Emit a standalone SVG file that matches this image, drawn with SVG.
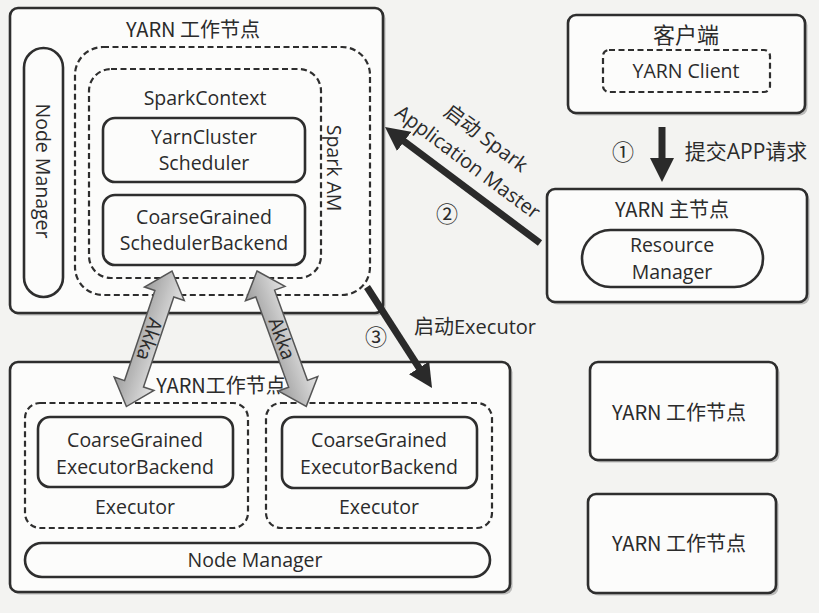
<svg xmlns="http://www.w3.org/2000/svg" width="819" height="613" viewBox="0 0 819 613">
<defs>
<style>
.box{fill:#fcfcfb;stroke:#2e2e2e;stroke-width:2.6}
.shadow{fill:#8c8c8c;opacity:0.55}
.inner{fill:#fcfcfb;stroke:#2e2e2e;stroke-width:2.6}
.dash{fill:none;stroke:#2e2e2e;stroke-width:2.2;stroke-dasharray:6 3.5}
.t{font-family:"Open Sans","Noto Sans CJK SC",sans-serif;font-size:19.5px;fill:#2b2b2b;text-anchor:middle}
.cn{font-family:"Noto Sans CJK SC",sans-serif;font-size:20px;fill:#2b2b2b;text-anchor:middle}
.num{font-family:"Noto Sans CJK SC",sans-serif;font-size:22px;fill:#2b2b2b;text-anchor:middle}
.akka{font-family:"Noto Sans CJK SC",sans-serif;font-size:19px;fill:#2b2b2b;text-anchor:middle}
.arr{stroke:#2a2a2a;stroke-width:7;fill:none;marker-end:url(#head)}
.block{stroke:#555;stroke-width:1.5;fill:url(#gg)}
</style>
<marker id="head" markerUnits="userSpaceOnUse" viewBox="0 0 24 24" markerWidth="24" markerHeight="24" refX="4" refY="12" orient="auto">
<path d="M0,0 L24,12 L0,24 z" fill="#2a2a2a"/>
</marker>
<linearGradient id="gg" x1="0" y1="0" x2="0" y2="1">
<stop offset="0" stop-color="#e4e4e4"/>
<stop offset="1" stop-color="#9c9c9c"/>
</linearGradient>
</defs>
<rect x="0" y="0" width="819" height="613" fill="#f3f3f1"/>

<g id="worker-am">
<rect class="shadow" x="12.5" y="10.5" width="373" height="305" rx="8"/>
<rect class="box" x="10" y="8" width="373" height="305" rx="8"/>
<text class="cn" x="193" y="37">YARN 工作节点</text>
<g id="nm-top">
<rect class="inner" x="24" y="48" width="39" height="249" rx="19.5"/>
<text class="t" transform="translate(43,171) rotate(90)" x="0" y="7">Node Manager</text>
</g>
<g id="spark-am">
<rect class="dash" x="75" y="47" width="295" height="248" rx="28"/>
<text class="t" transform="translate(334,168) rotate(90)" x="0" y="7">Spark AM</text>
</g>
<g id="spark-context">
<rect class="dash" x="89" y="69" width="232" height="209" rx="22"/>
<text class="t" x="205" y="105">SparkContext</text>
</g>
<g id="yarn-cluster-scheduler">
<rect class="inner" x="103" y="118" width="202" height="64" rx="12"/>
<text class="t" x="204" y="144">YarnCluster</text>
<text class="t" x="204" y="170">Scheduler</text>
</g>
<g id="scheduler-backend">
<rect class="inner" x="103" y="195" width="202" height="70" rx="12"/>
<text class="t" x="204" y="224">CoarseGrained</text>
<text class="t" x="204" y="250">SchedulerBackend</text>
</g>
</g>

<g id="client">
<rect class="shadow" x="570.5" y="17.5" width="237" height="98" rx="8"/>
<rect class="box" x="568" y="15" width="237" height="98" rx="8"/>
<text class="cn" x="686" y="43" style="font-size:22px">客户端</text>
<g id="yarn-client">
<rect class="dash" x="603" y="50" width="167" height="42" rx="6"/>
<text class="t" x="686" y="78">YARN Client</text>
</g>
</g>

<g id="master">
<rect class="shadow" x="549.5" y="191.5" width="260" height="113" rx="8"/>
<rect class="box" x="547" y="189" width="260" height="113" rx="8"/>
<text class="cn" x="672" y="217">YARN 主节点</text>
<g id="resource-manager">
<rect class="inner" x="582" y="230" width="181" height="57" rx="28.5"/>
<text class="t" x="672" y="252">Resource</text>
<text class="t" x="672" y="279">Manager</text>
</g>
</g>

<g id="worker-exec">
<rect class="shadow" x="12.5" y="364.5" width="500" height="230" rx="8"/>
<rect class="box" x="10" y="362" width="500" height="230" rx="8"/>
<text class="cn" x="221" y="393">YARN工作节点</text>
<g id="executor-1">
<rect class="dash" x="25" y="403" width="223" height="125" rx="15"/>
<rect class="inner" x="38" y="417" width="195" height="70" rx="12"/>
<text class="t" x="135" y="447">CoarseGrained</text>
<text class="t" x="135" y="474">ExecutorBackend</text>
<text class="t" x="135" y="514">Executor</text>
</g>
<g id="executor-2">
<rect class="dash" x="266" y="403" width="226" height="125" rx="15"/>
<rect class="inner" x="282" y="417" width="195" height="71" rx="12"/>
<text class="t" x="379" y="447">CoarseGrained</text>
<text class="t" x="379" y="474">ExecutorBackend</text>
<text class="t" x="379" y="514">Executor</text>
</g>
<g id="nm-bottom">
<rect class="inner" x="25" y="543" width="465" height="34" rx="17"/>
<text class="t" x="255" y="567">Node Manager</text>
</g>
</g>

<g id="worker-2">
<rect class="shadow" x="592.5" y="364.5" width="187" height="98" rx="8"/>
<rect class="box" x="590" y="362" width="187" height="98" rx="8"/>
<text class="cn" x="679" y="420">YARN 工作节点</text>
</g>
<g id="worker-3">
<rect class="shadow" x="590.5" y="496.5" width="188" height="99" rx="8"/>
<rect class="box" x="588" y="494" width="188" height="99" rx="8"/>
<text class="cn" x="679" y="551">YARN 工作节点</text>
</g>

<g id="connectors">
<g id="c1">
<line class="arr" x1="662" y1="127" x2="662" y2="162"/>
<text class="num" x="623" y="160">①</text>
<text class="t" x="746" y="159" style="font-size:21px">提交APP请求</text>
</g>
<g id="c2">
<line class="arr" x1="540" y1="243" x2="401" y2="139"/>
<text class="num" x="447" y="222">②</text>
<text class="t" transform="translate(486,138) rotate(36.8)" x="0" y="7" style="font-size:20px">启动 Spark</text>
<text class="t" transform="translate(468,162) rotate(36.8)" x="0" y="7" style="font-size:20px">Application Master</text>
</g>
<g id="c3">
<line class="arr" x1="367" y1="287" x2="421.2" y2="371.2"/>
<text class="num" x="376" y="345">③</text>
<text class="t" x="475" y="334" style="font-size:20px">启动Executor</text>
</g>
<g id="akka-1" transform="translate(172,271) rotate(108.6)">
<polygon class="block" points="0,0 24,-21 24,-10 119,-10 119,-21 143,0 119,21 119,10 24,10 24,21"/>
<text class="akka" x="72" y="6.5">Akka</text>
</g>
<g id="akka-2" transform="translate(257,271) rotate(70)">
<polygon class="block" points="0,0 24,-21 24,-10 120,-10 120,-21 144,0 120,21 120,10 24,10 24,21"/>
<text class="akka" x="72" y="6.5">Akka</text>
</g>
</g>
</svg>
